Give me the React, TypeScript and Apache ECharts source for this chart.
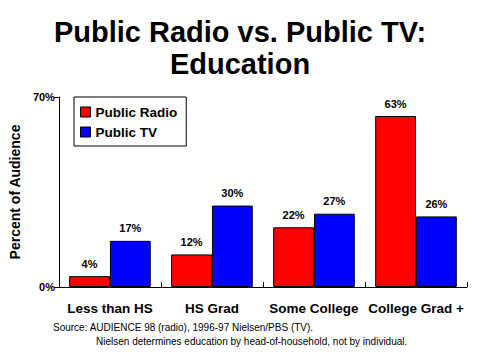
import React, { useEffect, useRef } from "react";
import * as echarts from "echarts";

const categories = ["Less than HS", "HS Grad", "Some College", "College Grad +"];
const radioValues = [4, 12, 22, 63];
const tvValues = [17, 30, 27, 26];
const yTicks = [0, 70];

export default function App() {
  const ref = useRef<HTMLDivElement>(null);
  useEffect(() => {
    const chart = echarts.init(ref.current!, null, { renderer: "svg" });
    const font = "Liberation Sans, Arial, sans-serif";
    const labelCfg = {
      show: true,
      position: "top" as const,
      formatter: "{c}%",
      color: "#000",
      fontWeight: "bold" as const,
      fontSize: 11,
      fontFamily: font,
      distance: 7,
    };
    chart.setOption({
      animation: false,
      backgroundColor: "#fff",
      title: {
        text: "Public Radio vs. Public TV:\nEducation",
        left: "center",
        top: 11,
        textStyle: {
          fontFamily: font,
          fontWeight: "bold",
          fontSize: 29,
          color: "#000",
          lineHeight: 32,
        },
      },
      legend: {
        orient: "vertical",
        left: 74,
        top: 97,
        itemWidth: 10,
        itemHeight: 10,
        itemGap: 6,
        padding: [8, 9, 7, 6],
        borderColor: "#000",
        borderWidth: 1,
        backgroundColor: "#fff",
        textStyle: { fontFamily: font, fontWeight: "bold", fontSize: 13.5, color: "#000" },
        data: [
          { name: "Public Radio", icon: "rect", itemStyle: { borderColor: "#000", borderWidth: 1 } },
          { name: "Public TV", icon: "rect", itemStyle: { borderColor: "#000", borderWidth: 1 } },
        ],
      },
      grid: { left: 56, right: 13, top: 97, bottom: 73, containLabel: false },
      xAxis: {
        type: "category",
        data: categories,
        axisLine: { lineStyle: { color: "#000" } },
        axisTick: { show: true, length: 5, inside: true, lineStyle: { color: "#000" } },
        axisLabel: {
          fontFamily: font,
          fontWeight: "bold",
          fontSize: 13.5,
          color: "#000",
          margin: 14,
          interval: 0,
        },
      },
      yAxis: {
        type: "value",
        min: yTicks[0],
        max: yTicks[1],
        interval: 70,
        name: "Percent of Audience",
        nameLocation: "middle",
        nameGap: 24,
        nameTextStyle: { fontFamily: font, fontWeight: "bold", fontSize: 14, color: "#000" },
        axisLine: { show: true, lineStyle: { color: "#000" } },
        axisTick: { show: true, length: 5, lineStyle: { color: "#000" } },
        splitLine: { show: false },
        axisLabel: {
          formatter: "{value}%",
          fontFamily: font,
          fontWeight: "bold",
          fontSize: 11,
          color: "#000",
          margin: 4,
        },
      },
      series: [
        {
          name: "Public Radio",
          type: "bar",
          data: radioValues,
          barGap: "0%",
          barCategoryGap: "20%",
          itemStyle: { color: "#ff0000", borderColor: "#000", borderWidth: 1 },
          label: labelCfg,
        },
        {
          name: "Public TV",
          type: "bar",
          data: tvValues,
          itemStyle: { color: "#0000ff", borderColor: "#000", borderWidth: 1 },
          label: labelCfg,
        },
      ],
      graphic: [
        {
          type: "text",
          left: 53,
          top: 322,
          style: {
            text: "Source: AUDIENCE 98 (radio), 1996-97 Nielsen/PBS (TV).",
            fontFamily: font,
            fontSize: 10,
            fill: "#000",
          },
        },
        {
          type: "text",
          left: 96,
          top: 336,
          style: {
            text: "Nielsen determines education by head-of-household, not by individual.",
            fontFamily: font,
            fontSize: 10,
            fill: "#000",
          },
        },
      ],
    });
    return () => chart.dispose();
  }, []);
  return <div ref={ref} style={{ width: 480, height: 360, position: "absolute", left: 0, top: 0 }} />;
}
